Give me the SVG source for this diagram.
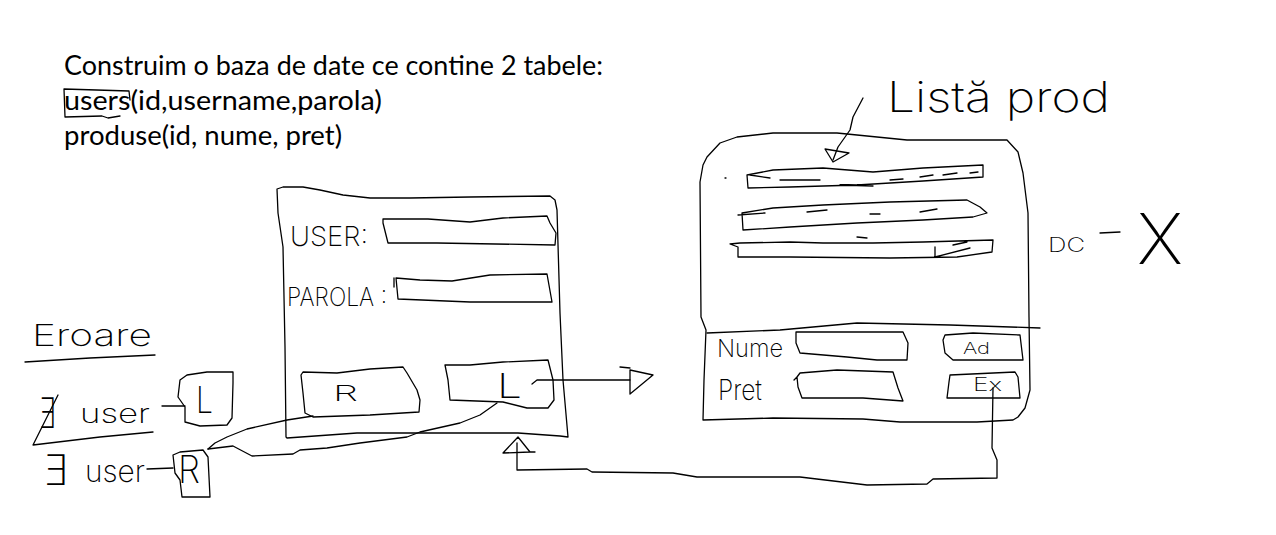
<svg xmlns="http://www.w3.org/2000/svg" width="1276" height="535" viewBox="0 0 1276 535">
<style>
.s{fill:none;stroke:#000;stroke-width:1.3;stroke-linejoin:round;stroke-linecap:round}
.t{font-family:Lato,"Open Sans","Liberation Sans",sans-serif;font-size:26px;fill:#000}
.h{font-family:Inter,"DejaVu Sans","Liberation Sans",sans-serif;font-weight:200;fill:#000}
</style>
<rect width="1276" height="535" fill="#fff"/>

<g id="intro">
<text class="t" x="64" y="75" textLength="539" lengthAdjust="spacingAndGlyphs">Construim o baza de date ce contine 2 tabele:</text>
<text class="t" x="64" y="110" textLength="318" lengthAdjust="spacingAndGlyphs">users(id,username,parola)</text>
<text class="t" x="64" y="145" textLength="278" lengthAdjust="spacingAndGlyphs">produse(id, nume, pret)</text>
<path class="s" d="M64,89 L129,91 L130,100 M64,89 L65,117 L102,116 L108,118 L120,116"/>
</g>

<g id="errors">
<text class="h" x="32" y="346" font-size="30" textLength="120" lengthAdjust="spacingAndGlyphs">Eroare</text>
<path class="s" d="M25,362 L90,358 L155,355"/>
<text class="h" x="38" y="428" font-size="42" textLength="18" lengthAdjust="spacingAndGlyphs">∃</text>
<text class="h" x="80" y="423" font-size="26" textLength="70" lengthAdjust="spacingAndGlyphs">user</text>
<path class="s" d="M58,395 L33,445 L100,437 L153,432"/>
<path class="s" d="M162,406 L185,406"/>
<path class="s" d="M180,380 L187,375 L207,372 L233,372 L233,383 L232,418 L227,425 L200,426 L185,422 L185,407 L178,397 Z"/>
<text class="h" x="196" y="413" font-size="36" textLength="17" lengthAdjust="spacingAndGlyphs">L</text>
<text class="h" x="42" y="485" font-size="42" textLength="26" lengthAdjust="spacingAndGlyphs">∃</text>
<text class="h" x="85" y="482" font-size="30" textLength="60" lengthAdjust="spacingAndGlyphs">user</text>
<path class="s" d="M147,469 L173,468"/>
<path class="s" d="M173,455 L180,452 L203,450 L208,457 L210,497 L182,497 L180,480 L175,473 Z"/>
<text class="h" x="178" y="483" font-size="38" textLength="22" lengthAdjust="spacingAndGlyphs">R</text>
</g>

<g id="login-form">
<path class="s" d="M277,189 L283,187 L303,187 L320,190 L343,195 L370,198 L410,198 L470,197 L550,196 L555,200 L557,210 L560,313 L563,380 L568,437 L560,436 L518,433 L357,433 L287,438 L286,437 L285,347 L283,247 L278,213 Z"/>
<text class="h" x="290" y="246" font-size="27" textLength="78" lengthAdjust="spacingAndGlyphs">USER:</text>
<path class="s" d="M383,219 L428,219 L470,222 L503,218 L547,216 L550,223 L556,233 L555,245 L437,243 L388,243 L383,223 Z"/>
<text class="h" x="287" y="306" font-size="26" textLength="100" lengthAdjust="spacingAndGlyphs">PAROLA :</text>
<path class="s" d="M396,278 L420,280 L452,281 L490,275 L547,274 L552,302 L470,302 L398,299 Z M394,278 L394,287"/>
<path class="s" d="M301,375 L303,372 L337,373 L370,369 L403,367 L407,373 L417,390 L420,400 L419,412 L370,415 L313,417 L305,413 L303,393 Z"/>
<text class="h" x="333" y="401" font-size="22" textLength="25" lengthAdjust="spacingAndGlyphs">R</text>
<path class="s" d="M445,365 L470,365 L503,362 L548,360 L553,380 L554,400 L548,408 L527,408 L503,402 L450,400 L448,380 Z"/>
<text class="h" x="497" y="398" font-size="34" textLength="25" lengthAdjust="spacingAndGlyphs">L</text>
</g>

<g id="lista-label">
<text class="h" x="887" y="112" font-size="42" textLength="223" lengthAdjust="spacingAndGlyphs">Listă prod</text>
</g>

<g id="products-panel">
<path class="s" d="M703,420 L704,380 L706,330 L701,317 L700,182 L703,165 L707,157 L720,143 L737,137 L773,133 L837,133 L907,140 L1007,140 L1018,152 L1023,173 L1028,213 L1029,317 L1030,390 L1025,408 L1018,417 L1013,420 L977,422 L900,422 L863,419 L773,418 Z"/>
<path class="s" d="M707,333 L780,330 L857,323 L950,325 L1040,328"/>
<path class="s" d="M747,175 L748,188 L790,187 L857,185 L923,181 L983,177 L983,165 L923,168 L873,172 L823,168 L773,170 Z M750,175 L770,178 M780,180 L820,180 M840,185 L873,186 M890,180 L903,179 M920,177 L933,175 M943,175 L957,173 M970,173 L978,172 M725,178 L726,178"/>
<path class="s" d="M742,213 L743,230 L790,227 L857,223 L923,220 L973,217 L987,213 L980,207 L967,200 L890,202 L823,205 L773,208 Z M738,215 L765,213 M807,212 L827,210 M870,214 L880,214 M920,212 L937,209"/>
<path class="s" d="M730,244 L738,247 L738,257 L790,257 L890,258 L957,257 L992,252 L993,240 L923,242 L873,243 L823,243 L790,242 L740,243 Z M857,237 L867,238 M935,247 L935,257 L970,248 M953,245 L967,242"/>
<text class="h" x="717" y="357" font-size="24" textLength="66" lengthAdjust="spacingAndGlyphs">Nume</text>
<path class="s" d="M796,332 L903,332 L908,343 L907,360 L877,360 L847,357 L800,353 L796,343 Z"/>
<text class="h" x="718" y="400" font-size="28" textLength="44" lengthAdjust="spacingAndGlyphs">Pret</text>
<path class="s" d="M797,377 L800,373 L837,370 L893,372 L898,388 L903,401 L863,398 L802,398 L798,387 Z M794,380 L797,377"/>
<path class="s" d="M945,335 L973,333 L1020,335 L1023,360 L953,360 L945,353 L943,340 Z"/>
<text class="h" x="963" y="354" font-size="16" textLength="27" lengthAdjust="spacingAndGlyphs">Ad</text>
<path class="s" d="M950,375 L1015,372 L1018,377 L1020,398 L947,398 L949,382 Z"/>
<text class="h" x="973" y="391" font-size="18" textLength="29" lengthAdjust="spacingAndGlyphs">Ex</text>
</g>

<g id="delete-hint">
<text class="h" x="1048" y="252" font-size="20" textLength="37" lengthAdjust="spacingAndGlyphs">DC</text>
<path class="s" d="M1100,233 L1120,232"/>
<text class="h" x="1137" y="264" font-size="70" textLength="46" lengthAdjust="spacingAndGlyphs">X</text>
</g>

<g id="connectors">
<path class="s" d="M863,98 L853,117 L850,130 L838,147 L833,160"/>
<path class="s" d="M825,149 L849,153 L833,162 Z"/>
<path class="s" d="M532,384 L537,380 L630,380"/>
<path class="s" d="M630,370 L653,375 L630,394 Z M620,367 L630,368"/>
<path class="s" d="M993,388 L992,448 L997,460 L997,478 L933,479 L927,484 L867,485 L800,477 L697,477 L673,473 L592,472 L587,469 L517,470 L517,443"/>
<path class="s" d="M503,453 L518,437 L530,452 Z M530,452 L535,452"/>
<path class="s" d="M208,449 L215,443 L227,437 L247,429 L287,420 L313,416"/>
<path class="s" d="M208,449 L233,446 L252,456 L293,454 L300,450 L327,448 L360,443 L407,437 L420,432 L460,423 L480,415 L497,403"/>
</g>
</svg>
